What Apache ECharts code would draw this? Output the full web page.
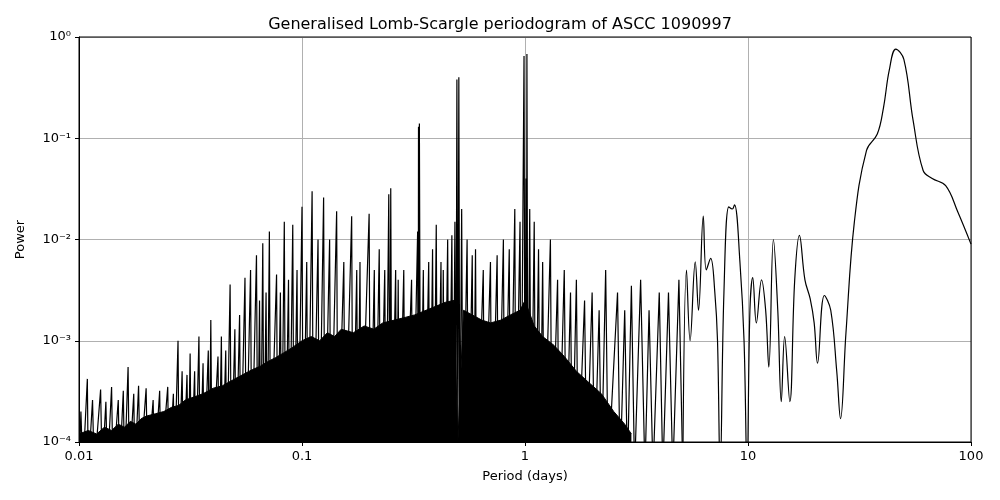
<!DOCTYPE html>
<html><head><meta charset="utf-8">
<script src="https://cdn.jsdelivr.net/npm/echarts@6/dist/echarts.min.js"></script>
<style>html,body{margin:0;background:#fff}#c{width:1000px;height:500px}</style></head>
<body><div id="c"></div>
<script>
const floorPeriods = [0.01,0.011,0.012,0.013,0.014,0.015,0.016,0.017,0.018,0.019,0.02,0.022,0.024,0.026,0.028,0.03,0.033,0.036,0.04,0.044,0.048,0.052,0.056,0.06,0.065,0.07,0.076,0.082,0.09,0.1,0.11,0.12,0.13,0.14,0.15,0.17,0.19,0.21,0.23,0.26,0.29,0.32,0.36,0.4,0.44,0.48,0.5,0.53,0.58,0.64,0.7,0.78,0.86,0.95,1.0,1.1,1.2,1.35,1.5,1.7,1.9,2.2,2.5,2.8,3.0];
const floorPowers  = [1.2e-4,1.3e-4,1.2e-4,1.4e-4,1.3e-4,1.5e-4,1.4e-4,1.6e-4,1.5e-4,1.7e-4,1.8e-4,1.9e-4,2.0e-4,2.2e-4,2.3e-4,2.6e-4,2.8e-4,3.0e-4,3.4e-4,3.6e-4,4.0e-4,4.4e-4,4.8e-4,5.2e-4,5.6e-4,6.2e-4,6.8e-4,7.5e-4,8.5e-4,1.0e-3,1.1e-3,1.0e-3,1.2e-3,1.1e-3,1.3e-3,1.2e-3,1.4e-3,1.3e-3,1.5e-3,1.6e-3,1.7e-3,1.8e-3,2.0e-3,2.2e-3,2.4e-3,2.5e-3,1.0e-4,2.0e-3,1.8e-3,1.6e-3,1.5e-3,1.6e-3,1.8e-3,2.0e-3,2.5e-3,1.4e-3,1.1e-3,9e-4,7e-4,5e-4,4e-4,3e-4,2e-4,1.5e-4,1.2e-4];

// Spiky short-period trace: [period, power]
const spikes = [
[0.01,5e-5],[0.0102,2e-4],[0.0104,5e-5],[0.0109,4.2e-4],[0.011,5e-5],[0.0115,2.6e-4],[0.0117,5e-5],[0.0125,3.3e-4],[0.0127,5e-5],[0.0132,2.5e-4],[0.0134,5e-5],
[0.014,3.5e-4],[0.0142,5e-5],[0.015,2.6e-4],[0.0152,5e-5],[0.0158,3.2e-4],[0.016,5e-5],[0.0166,5.5e-4],[0.0168,5e-5],[0.0176,3e-4],[0.0178,5e-5],[0.0185,3.6e-4],[0.0188,5e-5],
[0.02,3.4e-4],[0.0203,5e-5],[0.0215,2.6e-4],[0.0218,5e-5],[0.023,3.2e-4],[0.0233,5e-5],[0.025,3.5e-4],[0.0253,5e-5],[0.0265,3e-4],[0.0268,5e-5],[0.0278,1.0e-3],[0.0281,5e-5],
[0.029,5e-4],[0.0294,5e-5],[0.0305,4.6e-4],[0.0309,5e-5],[0.0315,7.5e-4],[0.0319,5e-5],[0.033,5e-4],[0.0334,5e-5],[0.0345,1.1e-3],[0.0349,5e-5],[0.036,6e-4],[0.0364,5e-5],
[0.038,8e-4],[0.0384,5e-5],[0.039,1.6e-3],[0.0395,5e-5],[0.042,7e-4],[0.0425,5e-5],[0.0435,1.1e-3],[0.044,5e-5],[0.0455,8e-4],[0.046,5e-5],[0.0476,3.6e-3],[0.0482,5e-5],
[0.05,1.3e-3],[0.0506,5e-5],[0.0525,1.8e-3],[0.0531,5e-5],[0.0555,4.2e-3],[0.0562,5e-5],[0.0588,5e-3],[0.0595,5e-5],[0.0625,7e-3],[0.0633,5e-5],[0.0645,2.5e-3],[0.0653,5e-5],
[0.0667,9.2e-3],[0.0675,5e-5],[0.069,3e-3],[0.0698,5e-5],[0.0714,1.2e-2],[0.0723,5e-5],[0.0769,4.5e-3],[0.0778,5e-5],[0.08,3e-3],[0.081,5e-5],[0.0833,1.5e-2],[0.0843,5e-5],
[0.087,4e-3],[0.088,5e-5],[0.0909,1.4e-2],[0.092,5e-5],[0.095,5e-3],[0.096,5e-5],[0.1,2.1e-2],[0.1012,5e-5],[0.105,6e-3],[0.1063,5e-5],[0.111,3e-2],[0.1124,5e-5],
[0.118,1e-2],[0.1195,5e-5],[0.125,2.6e-2],[0.1265,5e-5],[0.133,1e-2],[0.1346,5e-5],[0.143,1.9e-2],[0.1448,5e-5],[0.154,6e-3],[0.156,5e-5],[0.167,1.7e-2],[0.169,5e-5],
[0.176,5e-3],[0.178,5e-5],[0.182,6e-3],[0.184,5e-5],[0.2,1.8e-2],[0.2025,5e-5],[0.211,5e-3],[0.2135,5e-5],[0.222,8e-3],[0.225,5e-5],[0.235,5e-3],[0.238,5e-5],
[0.245,2.8e-2],[0.248,5e-5],[0.25,3.2e-2],[0.253,5e-5],[0.263,5e-3],[0.266,5e-5],[0.27,4e-3],[0.273,5e-5],[0.286,5e-3],[0.29,5e-5],[0.31,4e-3],[0.314,5e-5],
[0.33,1.2e-2],[0.332,5e-5],[0.333,0.13],[0.335,5e-5],[0.336,0.14],[0.34,5e-5],[0.35,5e-3],[0.355,5e-5],[0.37,6e-3],[0.375,5e-5],[0.385,8e-3],[0.39,5e-5],
[0.4,1.4e-2],[0.405,5e-5],[0.42,6e-3],[0.425,5e-5],[0.43,5e-3],[0.436,5e-5],[0.45,1e-2],[0.456,5e-5],[0.47,1.1e-2],[0.476,5e-5],[0.485,1.5e-2],[0.49,5e-5],
[0.495,0.38],[0.5,5e-5],[0.505,0.4],[0.51,5e-5],[0.52,2e-2],[0.527,5e-5],[0.55,1e-2],[0.557,5e-5],[0.58,7e-3],[0.587,5e-5],[0.6,8e-3],[0.608,5e-5],
[0.65,5e-3],[0.658,5e-5],[0.7,6e-3],[0.71,5e-5],[0.75,7e-3],[0.76,5e-5],[0.8,1e-2],[0.81,5e-5],[0.85,8e-3],[0.86,5e-5],[0.9,2e-2],[0.91,5e-5],
[0.95,1.5e-2],[0.96,5e-5],[0.99,0.65],[1.0,5e-5],[1.01,0.04],[1.015,5e-5],[1.02,0.68],[1.03,5e-5],[1.05,2e-2],[1.065,5e-5],[1.1,1.5e-2],[1.115,5e-5],
[1.15,8e-3],[1.17,5e-5],[1.2,6e-3],[1.22,5e-5],[1.3,1e-2],[1.32,5e-5],[1.4,4e-3],[1.42,5e-5],[1.5,5e-3],[1.53,5e-5],[1.6,3e-3],[1.63,5e-5],
[1.7,4e-3],[1.73,5e-5],[1.85,2.5e-3],[1.89,5e-5],[2.0,3e-3],[2.05,5e-5],[2.15,2e-3],[2.2,5e-5],[2.3,5e-3],[2.36,5e-5],[2.6,3e-3],[2.67,5e-5],
[2.8,2e-3],[2.88,5e-5],[3.0,3.5e-3],[3.1,5e-5],[3.3,4e-3],[3.45,5e-5],[3.6,2e-3],[3.75,5e-5],[4.0,3e-3],[4.15,5e-5],[4.4,3e-3],[4.6,5e-5],
[4.9,4e-3],[5.1,5e-5]
];
// Smooth long-period trace: [period, power]
const smoothTrace = [
[5.1,5e-5],[5.3,5e-3],[5.5,1e-3],[5.8,6e-3],[6.0,2e-3],[6.3,1.7e-2],[6.5,5e-3],[6.8,6.5e-3],[7.1,3e-3],[7.3,1e-3],[7.5,5e-5],
[7.8,3e-3],[8.2,2.1e-2],[8.5,2e-2],[8.7,2.2e-2],[9.2,6e-3],[9.6,1e-3],[9.9,5e-5],[10.2,2e-3],[10.5,4.2e-3],[10.9,1.5e-3],[11.5,4e-3],[12.0,2e-3],[12.4,5.5e-4],
[13.0,1e-2],[13.6,2e-3],[14.1,2.5e-4],[14.6,1.1e-3],[15.4,2.5e-4],[16.2,4e-3],[17.0,1.1e-2],[18.0,4e-3],[19.0,2.6e-3],[19.8,1.5e-3],[20.5,6e-4],[22.0,2.8e-3],[23.5,2e-3],
[25.0,5e-4],[26.0,1.7e-4],[27.5,1.2e-3],[30.0,1.5e-2],[34.0,7.6e-2],[38.0,1.1e-1],[40.5,2e-1],[43.0,4.7e-1],[46.0,7.6e-1],[50.0,6e-1],[55.0,1.5e-1],
[61.0,4.8e-2],[67.0,4e-2],[77.0,3.4e-2],[87.0,1.9e-2],[100.0,9e-3]
];

const sup = {'-':'⁻','0':'⁰','1':'¹','2':'²','3':'³','4':'⁴'};
const chart = echarts.init(document.getElementById('c'));
const ax = {lineStyle:{color:'#000',width:1}};
chart.setOption({
  animation:false,
  title:{text:'Generalised Lomb-Scargle periodogram of ASCC 1090997',left:'center',top:12,
    textStyle:{fontFamily:'DejaVu Sans',fontSize:16,fontWeight:'normal',color:'#000'}},
  grid:{left:79,right:29,top:37,bottom:58},
  xAxis:{type:'log',min:0.01,max:100,logBase:10,name:'Period (days)',nameLocation:'middle',nameGap:28,
    nameTextStyle:{fontFamily:'DejaVu Sans',fontSize:13,color:'#000'},
    axisLine:ax,axisTick:{lineStyle:{color:'#000'},length:4},
    axisLabel:{fontFamily:'DejaVu Sans',fontSize:13,color:'#000',formatter:v=>String(+v.toPrecision(3))},
    splitLine:{show:true,lineStyle:{color:'#b0b0b0'}}},
  yAxis:{type:'log',min:1e-4,max:1,logBase:10,name:'Power',nameLocation:'middle',nameGap:52,
    nameTextStyle:{fontFamily:'DejaVu Sans',fontSize:13,color:'#000'},
    axisLine:ax,axisTick:{lineStyle:{color:'#000'},length:4},
    axisLabel:{fontFamily:'DejaVu Sans',fontSize:13,color:'#000',
      formatter:v=>{const e=Math.round(Math.log10(v));return '10'+String(e).split('').map(c=>sup[c]).join('');}},
    splitLine:{show:true,lineStyle:{color:'#b0b0b0'}}},
  series:[
    {type:'line',data:floorPeriods.map((p,i)=>[p,floorPowers[i]]),symbol:'none',
      lineStyle:{color:'#000',width:1},areaStyle:{color:'#000',opacity:1,origin:'start'},clip:true},
    {type:'line',data:spikes,symbol:'none',lineStyle:{color:'#000',width:1.2},clip:true},
    {type:'line',data:smoothTrace,symbol:'none',smooth:0.4,lineStyle:{color:'#000',width:1.2},clip:true}
  ],
  graphic:[{type:'rect',shape:{x:79,y:37,width:892,height:405},style:{fill:'none',stroke:'#000',lineWidth:1},z:100}]
});
</script></body></html>
